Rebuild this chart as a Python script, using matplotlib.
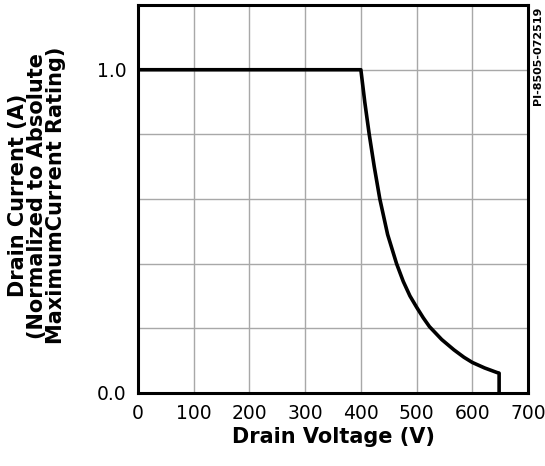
import numpy as np
import matplotlib.pyplot as plt

# Safe operating curve
voltage = [0, 400, 407, 415, 424, 434, 448, 464, 476, 488, 500, 512, 523,
           545, 567, 585, 600, 622, 644, 648, 648]
current = [1.0, 1.0, 0.90, 0.80, 0.70, 0.60, 0.49, 0.40, 0.345, 0.300, 0.265,
           0.232, 0.205, 0.165, 0.133, 0.110, 0.094, 0.077, 0.063, 0.061, 0.0]

x_ticks = [0, 100, 200, 300, 400, 500, 600, 700]
y_ticks = [0.0, 1.0]
y_grid = [0.2, 0.4, 0.6, 0.8, 1.0]

fig = plt.figure(figsize=(5.45, 4.66), dpi=100)
ax = fig.add_axes([0.253, 0.157, 0.716, 0.832])

for v in x_ticks[1:-1]:
    ax.axvline(v, color='#a8a8a8', lw=1.0, zorder=1)
for c in y_grid:
    ax.axhline(c, color='#a8a8a8', lw=1.0, zorder=1)

ax.plot(voltage, current, color='black', lw=2.6, solid_joinstyle='round', zorder=3)

ax.set_xlim(0, 700)
ax.set_ylim(0, 1.2)
ax.set_xticks(x_ticks)
ax.set_xticklabels([str(v) for v in x_ticks])
ax.set_yticks(y_ticks)
ax.set_yticklabels(['0.0', '1.0'])
ax.tick_params(length=0, labelsize=13.5, pad=8)
for s in ax.spines.values():
    s.set_linewidth(2.2)

ax.set_xlabel('Drain Voltage (V)', fontsize=15, fontweight='bold', labelpad=3)
fig.text(0.068, 0.58, 'Drain Current (A)\n(Normalized to Absolute\nMaximumCurrent Rating)',
         rotation=90, ha='center', va='center', multialignment='center',
         fontsize=15, fontweight='bold', linespacing=0.92)
fig.text(0.987, 0.985, 'PI-8505-072519', rotation=90, ha='center', va='top',
         fontsize=8, fontweight='bold')

fig.savefig('out.png', dpi=100)
